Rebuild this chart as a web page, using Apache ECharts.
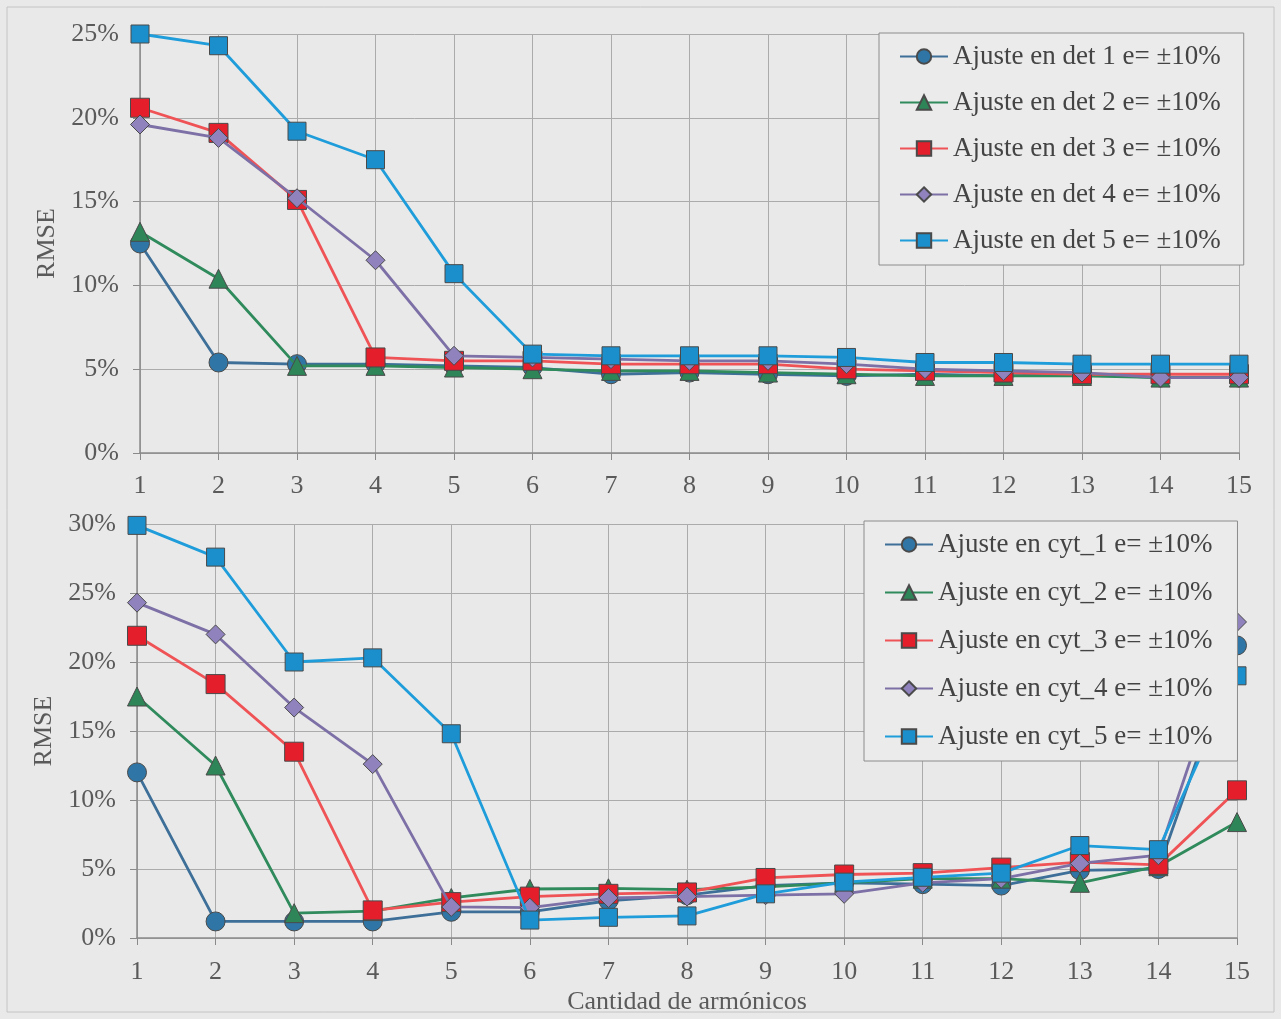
<!DOCTYPE html>
<html>
<head>
<meta charset="utf-8">
<script src="https://cdn.jsdelivr.net/npm/echarts@6/dist/echarts.min.js"></script>
<style>
html,body{margin:0;padding:0;background:#e9e9e9;}
#chart{width:1281px;height:1019px;}
</style>
</head>
<body>
<div id="chart"></div>
<script>
const categories = ['1','2','3','4','5','6','7','8','9','10','11','12','13','14','15'];
const topTicks = [0,5,10,15,20,25];
const bottomTicks = [0,5,10,15,20,25,30];

const det1 = [12.5,5.4,5.3,5.3,5.2,5.1,4.7,4.8,4.7,4.6,4.7,4.6,4.7,4.5,4.5];
const det2 = [13.2,10.4,5.2,5.2,5.1,5.0,4.9,4.9,4.8,4.7,4.6,4.6,4.6,4.5,4.5];
const det3 = [20.6,19.1,15.1,5.7,5.5,5.5,5.3,5.3,5.3,5.0,4.9,4.8,4.7,4.7,4.7];
const det4 = [19.6,18.8,15.2,11.5,5.8,5.7,5.6,5.5,5.5,5.3,5.0,4.9,4.8,4.5,4.5];
const det5 = [25.0,24.3,19.2,17.5,10.7,5.9,5.8,5.8,5.8,5.7,5.4,5.4,5.3,5.3,5.3];

const cyt1 = [12.0,1.2,1.2,1.2,1.9,1.9,2.7,3.1,3.8,4.0,3.9,3.8,4.9,5.0,21.2];
const cyt2 = [17.5,12.5,1.8,1.95,2.9,3.55,3.6,3.5,3.7,4.0,4.3,4.3,4.0,5.2,8.4];
const cyt3 = [21.9,18.4,13.5,2.0,2.6,3.0,3.2,3.3,4.35,4.6,4.7,5.1,5.5,5.3,10.7];
const cyt4 = [24.3,22.0,16.7,12.6,2.25,2.2,2.9,3.0,3.1,3.2,4.0,4.3,5.4,6.0,22.9];
const cyt5 = [29.9,27.6,20.0,20.3,14.8,1.3,1.5,1.6,3.2,4.05,4.4,4.7,6.7,6.4,19.0];

const detNames = ['Ajuste en det 1 e= ±10%','Ajuste en det 2 e= ±10%','Ajuste en det 3 e= ±10%','Ajuste en det 4 e= ±10%','Ajuste en det 5 e= ±10%'];
const cytNames = ['Ajuste en cyt_1 e= ±10%','Ajuste en cyt_2 e= ±10%','Ajuste en cyt_3 e= ±10%','Ajuste en cyt_4 e= ±10%','Ajuste en cyt_5 e= ±10%'];

const styles = [
  {line:'#3d6f98', fill:'#2f76a6', symbol:'circle', size:19},
  {line:'#2f8a5c', fill:'#2e8557', symbol:'triangle', size:19},
  {line:'#ef5356', fill:'#e41f2b', symbol:'rect', size:19},
  {line:'#7d70a6', fill:'#8f82bd', symbol:'diamond', size:19},
  {line:'#1f9ddb', fill:'#1b8fcb', symbol:'rect', size:18}
];

const FONT = '"Liberation Serif", "Times New Roman", serif';

function mkSeries(name, data, idx, axisIdx){
  const s = styles[idx];
  return {
    name, type:'line', data, xAxisIndex:axisIdx, yAxisIndex:axisIdx,
    symbol:s.symbol, symbolSize:s.size, showSymbol:true,
    lineStyle:{color:s.line, width:2.8},
    itemStyle:{color:s.fill, borderColor:'#4a4a4a', borderWidth:1},
    emphasis:{disabled:true},
    animation:false, z: 2 + idx
  };
}

const series = [];
[det1,det2,det3,det4,det5].forEach((d,i)=>series.push(mkSeries(detNames[i], d, i, 0)));
[cyt1,cyt2,cyt3,cyt4,cyt5].forEach((d,i)=>series.push(mkSeries(cytNames[i], d, i, 1)));

function xAxis(gridIndex, name, margin){
  return {
    type:'category', gridIndex, data:categories, boundaryGap:false,
    axisLine:{lineStyle:{color:'#8a8a8a', width:1.5}},
    axisTick:{show:true, length:7, lineStyle:{color:'#8a8a8a'}},
    axisLabel:{color:'#5a5a5a', fontFamily:FONT, fontSize:26, margin},
    splitLine:{show:true, lineStyle:{color:'#ababab', width:1}},
    name: name || '', nameLocation:'middle', nameGap:51,
    nameTextStyle:{color:'#5a5a5a', fontFamily:FONT, fontSize:26}
  };
}
function yAxis(gridIndex, ticks){
  return {
    type:'value', gridIndex, min:ticks[0], max:ticks[ticks.length-1], interval:5,
    axisLine:{show:true, lineStyle:{color:'#8a8a8a', width:1.5}},
    axisTick:{show:true, length:7, lineStyle:{color:'#8a8a8a'}},
    axisLabel:{color:'#5a5a5a', fontFamily:FONT, fontSize:26, margin:21, formatter: v => v + '%'},
    splitLine:{show:true, lineStyle:{color:'#ababab', width:1}},
    name:'RMSE', nameLocation:'middle', nameGap:80, nameRotate:90,
    nameTextStyle:{color:'#5a5a5a', fontFamily:FONT, fontSize:26}
  };
}

function legend(names, left, top, gap, padRight){
  return {
    data:names, orient:'vertical', left, top, z:30,
    itemWidth:48, itemHeight:18, itemGap:gap,
    padding:[10,padRight,11,20],
    backgroundColor:'#ebebeb', borderColor:'#8c8c8c', borderWidth:1,
    textStyle:{color:'#444', fontFamily:FONT, fontSize:27},
    selectedMode:false
  };
}

const chart = echarts.init(document.getElementById('chart'), null, {renderer:'canvas'});
chart.setOption({
  backgroundColor:'#e9e9e9',
  animation:false,
  graphic:[{type:'rect', shape:{x:7, y:7, width:1267, height:1005}, style:{fill:'none', stroke:'#c4c4c4', lineWidth:1}, z:-1, silent:true}],
  grid:[
    {left:140, top:34, width:1099, height:419, containLabel:false},
    {left:137, top:524, width:1100, height:414, containLabel:false}
  ],
  xAxis:[xAxis(0, '', 20), xAxis(1, 'Cantidad de armónicos', 21)],
  yAxis:[yAxis(0, topTicks), yAxis(1, bottomTicks)],
  legend:[legend(detNames, 879, 33, 19, 23), legend(cytNames, 864, 521, 21, 25)],
  series
});
</script>
</body>
</html>
